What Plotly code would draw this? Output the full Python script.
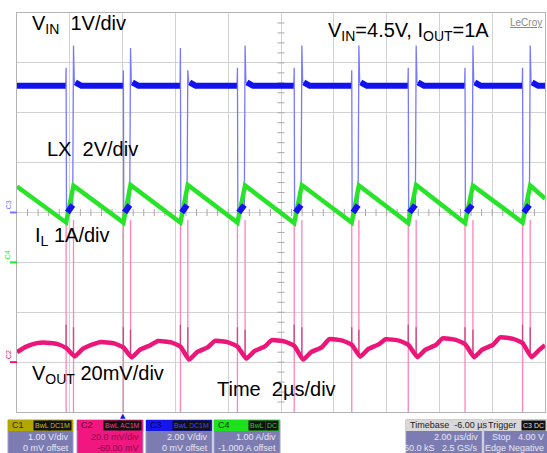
import plotly.graph_objects as go

# ---------------- values read from the scope screen ----------------
# time axis: 10 div x 2 us/div, t measured from left edge of the screen (us)
lx_fall_us = [1.86, 4.03, 6.19, 8.35, 10.50, 12.68, 14.82, 16.97, 19.15]
lx_rise_us = [2.14, 4.30, 6.47, 8.64, 10.79, 12.95, 15.12, 17.27, 19.44]

# LX node  (C3: 2 V/div, 0 V offset)
lx_high_V = 5.08
lx_overshoot_V = 5.22
lx_low_start_V = 0.0
lx_low_end_V = 0.30
lx_undershoot_V = -0.15
lx_fall_spike_V = [5.8, 5.7, 6.6, 5.8, 5.8, 5.7, 5.8, 5.8, 5.8]
lx_rise_spike_V = [6.7, 6.6, 5.7, 6.7, 6.7, 6.7, 6.7, 6.7, 6.7]

# inductor current  (C4: 1 A/div, -1 A offset)
il_start_A = 1.52
il_valley_A = [0.80, 0.80, 0.80, 0.80, 0.79, 0.80, 0.79, 0.79, 0.80]
il_peak_A = [1.54, 1.55, 1.55, 1.54, 1.55, 1.54, 1.55, 1.54, 1.54]
il_end_A = 1.28

# output ripple  (C2: AC, 20 mV/div, -60 mV offset)
vout_start_mV = 4.0
vout_hump_mV = [7.9, 8.1, 8.5, 8.5, 8.8, 9.2, 9.2, 9.5, 9.9]
vout_dip_mV = [2.3, 1.9, 1.0, 1.4, 1.0, 2.2, 2.0, 2.0, 2.0]
vout_end_mV = 6.8
vout_spike_top_mV = [57, 57, 57, 57, 57, 57, 57, 57, 57]
vout_fall_spike_bottom_mV = [-21, -21, -21, -21, -21, -21, -21, -21, -21]
vout_rise_spike_bottom_mV = [-21, 2, 2, 2, 2, 2, 2, 2, 2]
vout_ring_top_mV = [15, 14, 15, 14, 15, 14, 15, 14, 15]

# channel vertical settings (scale per div, offset)
LX_SCALE, LX_OFFSET = 2.0, 0.0
IL_SCALE, IL_OFFSET = 1.0, -1.0
VO_SCALE, VO_OFFSET = 20.0, -60.0

T_DIV = 2.0  # us/div


def to_div(vals, scale, offset):
    return [None if v is None else (v + offset) / scale for v in vals]


# ---------------- build the traces from the read values ----------------
n = len(lx_fall_us)

# LX thin edges (full path)
lx_t, lx_v = [0.0], [lx_high_V]
for k in range(n):
    f, r = lx_fall_us[k], lx_rise_us[k]
    lx_t += [f - 0.015, f, f + 0.015, f + 0.05, r - 0.03, r, r + 0.03, r + 0.25]
    lx_v += [lx_high_V, lx_fall_spike_V[k], lx_undershoot_V, lx_low_start_V,
             lx_low_end_V, lx_rise_spike_V[k], lx_overshoot_V, lx_high_V]
lx_t.append(20.0)
lx_v.append(lx_high_V)

# LX thick noisy band (flat parts only)
band_t, band_v = [0.0], [lx_high_V]
for k in range(n):
    f, r = lx_fall_us[k], lx_rise_us[k]
    band_t += [f - 0.02, None, f + 0.05, r - 0.03, None, r + 0.07, r + 0.3]
    band_v += [lx_high_V, None, lx_low_start_V, lx_low_end_V, None, lx_overshoot_V, lx_high_V]
band_t.append(20.0)
band_v.append(lx_high_V)

# inductor current
il_t, il_v = [0.0], [il_start_A]
for k in range(n):
    il_t += [lx_fall_us[k], lx_rise_us[k]]
    il_v += [il_valley_A[k], il_peak_A[k]]
il_t.append(20.0)
il_v.append(il_end_A)

# output ripple: recovery after the previous dip, plateau, sag into the next switching event
vo_t, vo_v = [0.0, 0.35, 0.75], [vout_start_mV, vout_start_mV + 2.2, vout_start_mV + 3.6]
for k in range(n):
    f, r = lx_fall_us[k], lx_rise_us[k]
    h, d = vout_hump_mV[k], vout_dip_mV[k]
    if k > 0:
        pr, pd = lx_rise_us[k - 1], vout_dip_mV[k - 1]
        vo_t += [pr + 0.35, pr + 0.75]
        vo_v += [pd + 3.0, pd + 4.9]
    vo_t += [f - 0.85, f - 0.35, f, r + 0.05]
    vo_v += [h, h - 0.6, h - 2.2, d]
vo_t += [lx_rise_us[-1] + 0.35]
vo_v += [vout_dip_mV[-1] + 3.0]
vo_t.append(20.0)
vo_v.append(vout_end_mV)

# switching spikes coupled into VOUT
sp_t, sp_v, rg_t, rg_v = [], [], [], []
for k in range(n):
    f, r = lx_fall_us[k], lx_rise_us[k]
    sp_t += [f, f, None, r, r, None]
    sp_v += [vout_spike_top_mV[k], vout_fall_spike_bottom_mV[k], None,
             vout_spike_top_mV[k], vout_rise_spike_bottom_mV[k], None]
    rg_t += [f, f, None, r, r, None]
    rg_v += [vout_hump_mV[k] - 2.0, vout_ring_top_mV[k], None,
             vout_dip_mV[k], vout_ring_top_mV[k] - 1, None]

BLUE = "rgb(18,18,238)"
BLUE_L = "rgb(120,120,255)"
GREEN = "rgb(40,228,40)"
PINK = "rgb(236,22,122)"
PINK_L = "rgb(255,130,185)"
PINK_D = "rgb(205,70,130)"

fig = go.Figure()

# center graticule minor ticks
fig.add_trace(go.Scatter(x=[i * 0.4 for i in range(1, 50)], y=[0] * 49, mode="markers",
                         marker=dict(symbol="line-ns", size=5, line=dict(color="#a8a8a8", width=1)),
                         hoverinfo="skip", showlegend=False))
fig.add_trace(go.Scatter(x=[10] * 39, y=[-4 + i * 0.2 for i in range(1, 40)], mode="markers",
                         marker=dict(symbol="line-ew", size=5, line=dict(color="#a8a8a8", width=1)),
                         hoverinfo="skip", showlegend=False))

fig.add_trace(go.Scatter(x=sp_t, y=to_div(sp_v, VO_SCALE, VO_OFFSET), mode="lines",
                         line=dict(color=PINK_L, width=1.3), connectgaps=False, showlegend=False))
fig.add_trace(go.Scatter(x=rg_t, y=to_div(rg_v, VO_SCALE, VO_OFFSET), mode="lines",
                         line=dict(color=PINK_D, width=1.3), connectgaps=False, showlegend=False))
fig.add_trace(go.Scatter(x=lx_t, y=to_div(lx_v, LX_SCALE, LX_OFFSET), mode="lines",
                         line=dict(color=BLUE_L, width=1.3), showlegend=False))
fig.add_trace(go.Scatter(x=il_t, y=to_div(il_v, IL_SCALE, IL_OFFSET), mode="lines",
                         line=dict(color=GREEN, width=4.5), showlegend=False))
fig.add_trace(go.Scatter(x=band_t, y=to_div(band_v, LX_SCALE, LX_OFFSET), mode="lines",
                         line=dict(color=BLUE, width=6), connectgaps=False, showlegend=False))
fig.add_trace(go.Scatter(x=vo_t, y=to_div(vo_v, VO_SCALE, VO_OFFSET), mode="lines",
                         line=dict(color=PINK, width=4.5, shape="spline", smoothing=0.4),
                         showlegend=False))

FONT = "Arial, Liberation Sans, sans-serif"
NARROW = "Liberation Sans Narrow, Arial Narrow, Liberation Sans, sans-serif"

labels = [
    (0.49, 3.76, "V<sub>IN</sub>&nbsp;&nbsp;1V/div"),
    (1.06, 1.28, "LX&nbsp;&nbsp;2V/div"),
    (0.60, -0.49, "I<sub>L</sub> 1A/div"),
    (0.49, -3.25, "V<sub>OUT</sub> 20mV/div"),
    (7.50, -3.53, "Time&nbsp;&nbsp;2µs/div"),
    (11.70, 3.63, "V<sub>IN</sub>=4.5V, I<sub>OUT</sub>=1A"),
]
ann = []
for x, y, t in labels:
    ann.append(dict(x=x, y=y, xref="x", yref="y", text=t, showarrow=False,
                    xanchor="left", yanchor="middle", font=dict(family=FONT, size=20, color="black")))

ann.append(dict(x=(526 - 17) / 528, y=(412 - 22) / 400, xref="paper", yref="paper",
                text="<u>LeCroy</u>", showarrow=False, xanchor="center", yanchor="middle",
                font=dict(family=FONT, size=10, color="#8a8a8a")))

# left channel markers
for name, lvl, col in [("C3", (0 + LX_OFFSET) / LX_SCALE, BLUE_L),
                       ("C4", (0 + IL_OFFSET) / IL_SCALE, GREEN),
                       ("C2", (0 + VO_OFFSET) / VO_SCALE, PINK)]:
    ann.append(dict(x=-0.006, y=lvl, xref="paper", yref="y", text=name, showarrow=False,
                    textangle=-90, xanchor="right", yanchor="bottom", yshift=1,
                    font=dict(family=FONT, size=7, color=col)))
shapes = []
for lvl, col in [((0 + LX_OFFSET) / LX_SCALE, BLUE_L), ((0 + IL_OFFSET) / IL_SCALE, GREEN),
                 ((0 + VO_OFFSET) / VO_SCALE, PINK)]:
    shapes.append(dict(type="line", xref="paper", yref="y", x0=-7 / 528, x1=0, y0=lvl, y1=lvl,
                       line=dict(color=col, width=2)))

# trigger position marker
ann.append(dict(x=4.0, y=(412 - 416) / 400, xref="x", yref="paper", text="▲", showarrow=False,
                xanchor="center", yanchor="middle", font=dict(family="DejaVu Sans", size=7, color=BLUE)))


def fx(px):
    return (px - 17) / 528


def fy(py):
    return (412 - py) / 400


def box(x0, x1, head_col, body_col, title, tags, tag_col, lines, title_col, text_col, xr0=None):
    shapes.append(dict(type="rect", xref="paper", yref="paper", x0=fx(x0), x1=fx(x1),
                       y0=fy(460), y1=fy(420), fillcolor=body_col, line=dict(color="#9a9ac8", width=1)))
    shapes.append(dict(type="rect", xref="paper", yref="paper", x0=fx(x0), x1=fx(x1),
                       y0=fy(431), y1=fy(420), fillcolor=head_col, line=dict(width=0)))
    ann.append(dict(x=fx(x0 + 2), y=fy(425.5), xref="paper", yref="paper", text=title,
                    showarrow=False, xanchor="left", yanchor="middle",
                    font=dict(family=NARROW, size=9, color=title_col)))
    xr = (x1 - 1) if xr0 is None else xr0
    for tg in reversed(tags):
        ann.append(dict(x=fx(xr), y=fy(425.5), xref="paper", yref="paper", text=tg,
                        showarrow=False, xanchor="right", yanchor="middle", bgcolor="#111111",
                        borderpad=1, font=dict(family=NARROW, size=7, color=tag_col)))
        xr -= 4.3 * len(tg) + 4
    xt = (x1 - 2) if xr0 is None else xr0
    for i, ln in enumerate(lines):
        ann.append(dict(x=fx(xt), y=fy(437.5 + 11 * i), xref="paper", yref="paper", text=ln,
                        showarrow=False, xanchor="right", yanchor="middle",
                        font=dict(family=NARROW, size=9, color=text_col)))


LAV = "rgb(124,124,178)"
box(8, 73, "rgb(178,166,0)", LAV, "C1", ["BwL", "DC1M"], "rgb(200,190,40)",
    ["1.00 V/div", "0 mV offset"], "#2b2b00", "#e8e8f4")
box(77, 143, "rgb(240,24,128)", "rgb(240,24,128)", "C2", ["BwL", "AC1M"], "rgb(240,60,150)",
    ["20.0 mV/div", "-60.00 mV"], "#5a0030", "#8a0a48")
box(146, 212, "rgb(22,22,235)", LAV, "C3", ["BwL", "DC1M"], "rgb(70,70,255)",
    ["2.00 V/div", "0 mV offset"], "#000066", "#e8e8f4")
box(214, 280, "rgb(30,225,30)", LAV, "C4", ["BwL", "DC"], "rgb(40,210,40)",
    ["1.00 A/div", "-1.000 A offset"], "#003300", "#e8e8f4")
box(406, 482, "rgb(216,216,216)", LAV, "Timebase&nbsp;&nbsp;-6.00 µs", [], "#000",
    ["2.00 µs/div", "50.0 kS&nbsp;&nbsp;&nbsp;2.5 GS/s"], "#222222", "#e8e8f4")
box(484, 552, "rgb(216,216,216)", LAV, "Trigger", ["C3 DC"], "#dddddd",
    ["Stop&nbsp;&nbsp;&nbsp;4.00 V", "Edge&nbsp;Negative"], "#222222", "#e8e8f4", xr0=546)

fig.update_layout(
    width=547, height=453,
    margin=dict(l=17, r=2, t=13, b=41, pad=0),
    paper_bgcolor="white", plot_bgcolor="white",
    showlegend=False,
    annotations=ann, shapes=shapes,
    xaxis=dict(range=[0, 10 * T_DIV], dtick=T_DIV, showgrid=True, gridcolor="#d2d2d2", gridwidth=1,
               zeroline=False, showticklabels=False, ticks="", showline=True, mirror=True,
               linecolor="#b4b4b4", linewidth=1, fixedrange=True),
    yaxis=dict(range=[-4, 4], dtick=1, showgrid=True, gridcolor="#d2d2d2", gridwidth=1,
               zeroline=False, showticklabels=False, ticks="", showline=True, mirror=True,
               linecolor="#b4b4b4", linewidth=1, fixedrange=True),
)

fig.write_html("out.html", config={"displayModeBar": False},
               post_script="document.body.style.margin='0';document.body.style.overflow='hidden';")
